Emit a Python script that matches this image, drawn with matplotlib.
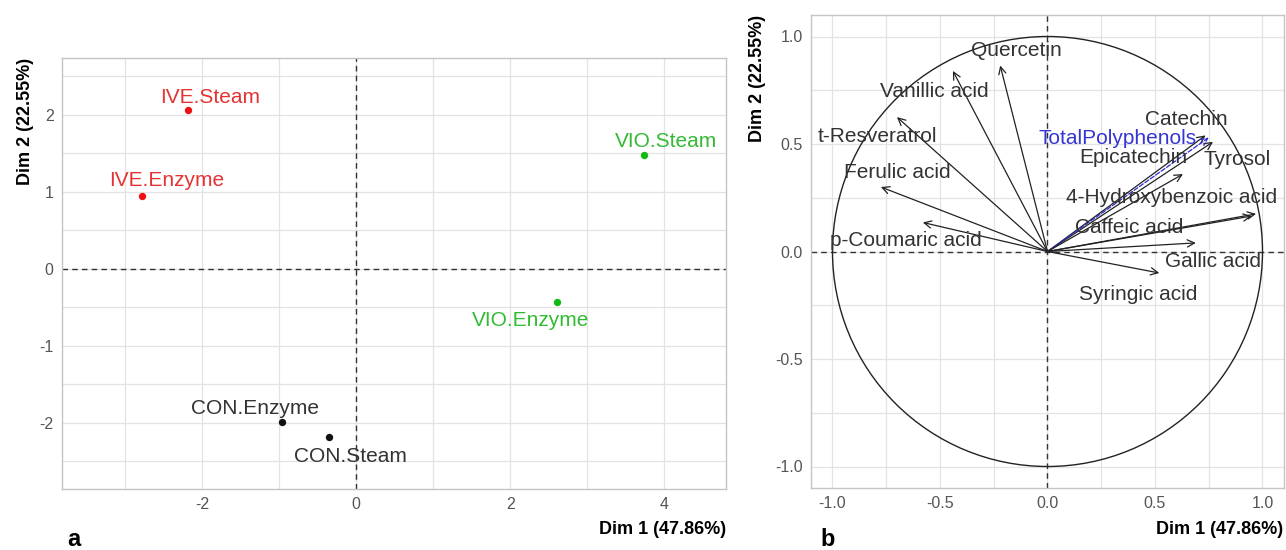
import numpy as np
import matplotlib
matplotlib.use('Agg')
import matplotlib.pyplot as plt
from matplotlib.patches import Circle

plt.rcParams['font.family'] = ['Liberation Sans', 'DejaVu Sans']
plt.rcParams['axes.unicode_minus'] = False

# individuals (panel a)
ind_names = ['IVE.Steam', 'IVE.Enzyme', 'VIO.Steam', 'VIO.Enzyme', 'CON.Enzyme', 'CON.Steam']
ind_x = [-2.19, -2.78, 3.74, 2.60, -0.96, -0.36]
ind_y = [2.06, 0.95, 1.48, -0.43, -1.99, -2.19]
ind_group = ['IVE', 'IVE', 'VIO', 'VIO', 'CON', 'CON']

# variables (panel b)
var_names = ['Quercetin', 'Vanillic acid', 't-Resveratrol', 'Ferulic acid', 'p-Coumaric acid',
             'Catechin', 'Tyrosol', 'TotalPolyphenols', 'Epicatechin',
             '4-Hydroxybenzoic acid', 'Caffeic acid', 'Gallic acid', 'Syringic acid']
var_x = [-0.22, -0.44, -0.70, -0.775, -0.58, 0.735, 0.77, 0.75, 0.63, 0.97, 0.95, 0.69, 0.52]
var_y = [0.865, 0.84, 0.625, 0.30, 0.135, 0.54, 0.51, 0.53, 0.36, 0.175, 0.165, 0.04, -0.10]

dim1_lab = 'Dim 1 (47.86%)'
dim2_lab = 'Dim 2 (22.55%)'

# layout: label offsets (pixels) for individuals, label positions for variables
ind_off = [(23, 13), (25, 15), (22, 13), (-26, -19), (-27, 14), (22, -19)]
var_lab_x = [-0.144, -0.526, -0.79, -0.70, -0.66, 0.647, 0.884, 0.326, 0.40, 0.577, 0.381, 0.772, 0.423]
var_lab_y = [0.935, 0.744, 0.535, 0.367, 0.05, 0.614, 0.428, 0.526, 0.437, 0.251, 0.112, -0.047, -0.20]

colours = {'IVE': '#EE1111', 'VIO': '#11BB11', 'CON': '#111111'}
text_colours = {'IVE': '#E33333', 'VIO': '#33BB33', 'CON': '#333333'}

W, H = 1286, 550
fig = plt.figure(figsize=(W / 100, H / 100), dpi=100)


def style_axes(ax, major, minor):
    ax.set_xticks(major[0])
    ax.set_yticks(major[1])
    ax.set_xticks(minor[0], minor=True)
    ax.set_yticks(minor[1], minor=True)
    ax.grid(True, which='both', color='#E3E3E3', lw=0.9, zorder=0)
    ax.set_axisbelow(True)
    ax.tick_params(which='both', length=0, labelsize=11.5, labelcolor='#555555', pad=6)
    for s in ax.spines.values():
        s.set_color('#C4C4C4')
        s.set_linewidth(1.0)
    ax.axhline(0, color='#333333', lw=1.0, ls=(0, (4, 3)), zorder=1)
    ax.axvline(0, color='#333333', lw=1.0, ls=(0, (4, 3)), zorder=1)


# panel a
ax1 = fig.add_axes([62 / W, 1 - 489 / H, 664 / W, 431 / H])
ax1.set_xlim(-3.82, 4.8)
ax1.set_ylim(-2.86, 2.74)
style_axes(ax1, ([-2, 0, 2, 4], [-2, -1, 0, 1, 2]),
           ([-3, -1, 1, 3], [-2.5, -1.5, -0.5, 0.5, 1.5, 2.5]))
for name, x, y, g, off in zip(ind_names, ind_x, ind_y, ind_group, ind_off):
    ax1.scatter(x, y, s=28, color=colours[g], zorder=3, linewidths=0)
    ax1.annotate(name, (x, y), xytext=off, textcoords='offset pixels',
                 ha='center', va='center', fontsize=15, color=text_colours[g], zorder=4)

# panel b
ax2 = fig.add_axes([811 / W, 1 - 488 / H, 473 / W, 473 / H])
ax2.set_xlim(-1.1, 1.1)
ax2.set_ylim(-1.1, 1.1)
style_axes(ax2, ([-1, -0.5, 0, 0.5, 1], [-1, -0.5, 0, 0.5, 1]),
           ([-0.75, -0.25, 0.25, 0.75], [-0.75, -0.25, 0.25, 0.75]))
ax2.set_xticklabels(['-1.0', '-0.5', '0.0', '0.5', '1.0'])
ax2.set_yticklabels(['-1.0', '-0.5', '0.0', '0.5', '1.0'])
ax2.add_patch(Circle((0, 0), 1, fill=False, color='#222222', lw=1.0, zorder=2))
for name, x, y, lx, ly in zip(var_names, var_x, var_y, var_lab_x, var_lab_y):
    if name == 'TotalPolyphenols':
        col, ls, tcol = '#2B2BD0', '--', '#3535D5'
    else:
        col, ls, tcol = '#222222', '-', '#333333'
    ax2.annotate('', xy=(x, y), xytext=(0, 0),
                 arrowprops=dict(arrowstyle='->', color=col, lw=0.9, ls=ls,
                                 mutation_scale=13, shrinkA=0, shrinkB=0), zorder=3)
    ax2.text(lx, ly, name, ha='center', va='center', fontsize=15, color=tcol, zorder=4)

# axis titles
fig.text(726 / W, 1 - 530 / H, dim1_lab, ha='right', va='center', fontsize=13, fontweight='bold')
fig.text(25 / W, 1 - 58 / H, dim2_lab, ha='center', va='top', rotation=90, fontsize=13, fontweight='bold')
fig.text(1283 / W, 1 - 530 / H, dim1_lab, ha='right', va='center', fontsize=13, fontweight='bold')
fig.text(758 / W, 1 - 15 / H, dim2_lab, ha='center', va='top', rotation=90, fontsize=13, fontweight='bold')

fig.text(74 / W, 1 - 540 / H, 'a', ha='center', va='center', fontsize=17, fontweight='bold')
fig.text(828 / W, 1 - 540 / H, 'b', ha='center', va='center', fontsize=17, fontweight='bold')

fig.savefig('out.png', dpi=100)
